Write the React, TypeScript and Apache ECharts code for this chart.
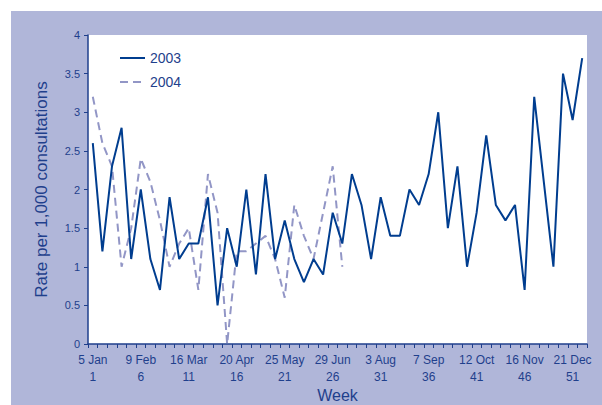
import React, { useEffect, useRef } from "react";
import * as echarts from "echarts";

const weeks: string[] = [
  "1","2","3","4","5","6","7","8","9","10","11","12","13","14","15","16","17","18","19","20",
  "21","22","23","24","25","26","27","28","29","30","31","32","33","34","35","36","37","38","39","40",
  "41","42","43","44","45","46","47","48","49","50","51","52",
];
const tickWeeks: string[] = ["1", "6", "11", "16", "21", "26", "31", "36", "41", "46", "51"];
const tickDates: string[] = ["5 Jan", "9 Feb", "16 Mar", "20 Apr", "25 May", "29 Jun", "3 Aug", "7 Sep", "12 Oct", "16 Nov", "21 Dec"];

const rate2003: number[] = [
  2.6, 1.2, 2.3, 2.8, 1.1, 2.0, 1.1, 0.7, 1.9, 1.1,
  1.3, 1.3, 1.9, 0.5, 1.5, 1.0, 2.0, 0.9, 2.2, 1.1,
  1.6, 1.1, 0.8, 1.1, 0.9, 1.7, 1.3, 2.2, 1.8, 1.1,
  1.9, 1.4, 1.4, 2.0, 1.8, 2.2, 3.0, 1.5, 2.3, 1.0,
  1.7, 2.7, 1.8, 1.6, 1.8, 0.7, 3.2, 2.1, 1.0, 3.5,
  2.9, 3.7,
];
const rate2004: number[] = [
  3.2, 2.6, 2.3, 1.0, 1.5, 2.4, 2.1, 1.6, 1.0, 1.3,
  1.5, 0.7, 2.2, 1.7, 0.0, 1.2, 1.2, 1.3, 1.4, 1.1,
  0.6, 1.8, 1.4, 1.1, 1.7, 2.3, 1.0,
];

const NAVY = "#1f3f8c";
const FONT = "'Liberation Sans', Arial, sans-serif";

export default function App() {
  const ref = useRef<HTMLDivElement>(null);
  useEffect(() => {
    if (!ref.current) return;
    const chart = echarts.init(ref.current, undefined, { renderer: "svg" });
    chart.setOption({
      animation: false,
      textStyle: { fontFamily: FONT, color: NAVY },
      grid: {
        left: 88,
        top: 35,
        width: 499,
        height: 309,
        show: true,
        backgroundColor: "#ffffff",
        borderWidth: 0,
        containLabel: false,
        outerBoundsMode: "none",
      },
      legend: {
        orient: "vertical",
        left: 114,
        top: 46,
        itemWidth: 25,
        itemHeight: 10,
        itemGap: 10,
        itemStyle: { opacity: 0 },
        textStyle: { fontSize: 14, color: NAVY, fontFamily: FONT },
        data: ["2003", "2004"],
      },
      xAxis: {
        type: "category",
        data: weeks,
        boundaryGap: true,
        name: "Week",
        nameLocation: "middle",
        nameGap: 43,
        nameMoveOverlap: false,
        nameTextStyle: { fontSize: 16, lineHeight: 16, color: NAVY, fontFamily: FONT },
        axisLine: { lineStyle: { color: NAVY, width: 1.5 } },
        axisTick: { show: true, interval: 0, length: 4, lineStyle: { color: NAVY } },
        axisLabel: {
          interval: 4,
          margin: 7,
          fontSize: 12,
          lineHeight: 17,
          color: NAVY,
          fontFamily: FONT,
          formatter: (value: string) => {
            const i = tickWeeks.indexOf(value);
            return i >= 0 ? `${tickDates[i]}\n${value}` : value;
          },
        },
      },
      yAxis: {
        type: "value",
        min: 0,
        max: 4,
        interval: 0.5,
        name: "Rate per 1,000 consultations",
        nameLocation: "middle",
        nameGap: 38,
        nameMoveOverlap: false,
        nameTextStyle: { fontSize: 17, color: NAVY, fontFamily: FONT },
        axisLine: { show: true, lineStyle: { color: NAVY, width: 1.5 } },
        axisTick: { show: true, length: 4, lineStyle: { color: NAVY } },
        splitLine: { show: false },
        axisLabel: { fontSize: 11, color: NAVY, margin: 8, fontFamily: FONT },
      },
      series: [
        {
          name: "2003",
          type: "line",
          data: rate2003,
          symbol: "none",
          lineStyle: { color: "#003d8f", width: 2 },
          itemStyle: { color: "#003d8f" },
          z: 3,
        },
        {
          name: "2004",
          type: "line",
          data: rate2004,
          symbol: "none",
          lineStyle: { color: "#9296c6", width: 2, type: [8, 5] },
          itemStyle: { color: "#9296c6" },
          z: 2,
        },
      ],
    });
    return () => chart.dispose();
  }, []);
  return (
    <div style={{ position: "fixed", left: 0, top: 0, width: 602, height: 405, background: "#ffffff" }}>
      <div
        style={{ position: "absolute", left: 11, top: 11, width: 591, height: 394, background: "#b0b6d9" }}
      />
      <div ref={ref} style={{ position: "absolute", left: 0, top: 0, width: 602, height: 405 }} />
    </div>
  );
}
